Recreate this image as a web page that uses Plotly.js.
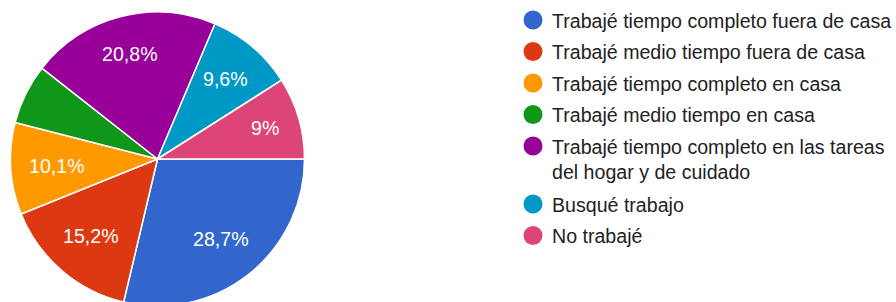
<!DOCTYPE html>
<html><head><meta charset="utf-8">
<script src="https://cdn.plot.ly/plotly-3.0.1.min.js"></script>
<style>html,body{margin:0;padding:0;overflow:hidden;background:#fff}#chart{width:896px;height:306px}</style>
</head><body><div id="chart"></div>
<script>
const categories = [
  "Trabajé tiempo completo fuera de casa",
  "Trabajé medio tiempo fuera de casa",
  "Trabajé tiempo completo en casa",
  "Trabajé medio tiempo en casa",
  "Trabajé tiempo completo en las tareas<br>del hogar y de cuidado",
  "Busqué trabajo",
  "No trabajé"
];
const values = [28.7, 15.2, 10.1, 6.6, 20.8, 9.6, 9.0];
const colors = ["#3366cc", "#dc3912", "#ff9900", "#109618", "#990099", "#0099c6", "#dd4477"];

const W = 896, H = 306;
const FONT = 'Arial, "Liberation Sans", sans-serif';
const FS = 19.6;
const labelsText = values.map(v => v >= 8 ? (Number.isInteger(v) ? String(v) : v.toFixed(1).replace('.', ',')) + '%' : '');

// pie geometry (pixels)
const PX0 = 10.5, PX1 = 304.5, PTOP = 12;
const R = (PX1 - PX0) / 2, CX = (PX0 + PX1) / 2, CY = PTOP + R;
const ROT = 90;

const trace = {
  type: 'pie',
  values: values,
  labels: categories,
  textinfo: 'none',
  sort: false,
  direction: 'clockwise',
  rotation: ROT,
  marker: {colors: colors, line: {color: '#ffffff', width: 1.5}},
  domain: {x: [PX0 / W, PX1 / W], y: [0, 1 - PTOP / H]},
  hoverinfo: 'label+percent',
  showlegend: false
};

const shapes = [], annotations = [];

// slice percentage labels along each slice bisector, pushed outward until the label box reaches a fixed radius
const ctx = document.createElement('canvas').getContext('2d');
ctx.font = FS + 'px ' + FONT;
const total = values.reduce((a, b) => a + b, 0);
const RL = 0.874 * R, HH = 11;
let cum = 0;
values.forEach((v, i) => {
  const mid = (ROT + (cum + v / 2) / total * 360) * Math.PI / 180;
  cum += v;
  if (!labelsText[i]) return;
  const m = ctx.measureText(labelsText[i]);
  const w = (m.actualBoundingBoxLeft !== undefined ? m.actualBoundingBoxLeft + m.actualBoundingBoxRight : m.width);
  const ux = Math.sin(mid), uy = -Math.cos(mid);
  const a = Math.sign(ux) * w / 2, b = Math.sign(uy) * HH;
  const p = ux * a + uy * b;
  const d = -p + Math.sqrt(p * p - (a * a + b * b) + RL * RL);
  const x = CX + d * ux, y = CY + d * uy;
  annotations.push({xref: 'paper', yref: 'paper', x: x / W, y: 1 - y / H,
    xanchor: 'center', yanchor: 'middle', showarrow: false, text: labelsText[i],
    font: {family: FONT, size: FS, color: '#ffffff'}});
});

// custom legend with circular swatches
const rowY = [20, 51.5, 83, 114.5, 146, 204, 235.5];
categories.forEach((c, i) => {
  const cy = rowY[i];
  shapes.push({type: 'circle', xref: 'paper', yref: 'paper',
    x0: (533 - 9.5) / W, x1: (533 + 9.5) / W,
    y0: 1 - (cy + 9.5) / H, y1: 1 - (cy - 9.5) / H,
    fillcolor: colors[i], line: {width: 0}});
  annotations.push({xref: 'paper', yref: 'paper', x: 550 / W, y: 1 - (cy - 12.5) / H,
    xanchor: 'left', yanchor: 'top', align: 'left', showarrow: false, text: c,
    font: {family: FONT, size: FS, color: '#222222'}});
});

Plotly.newPlot('chart', [trace], {
  width: W, height: H,
  margin: {l: 0, r: 0, t: 0, b: 0},
  paper_bgcolor: '#ffffff',
  shapes: shapes, annotations: annotations,
  showlegend: false
}, {displayModeBar: false, staticPlot: true});
</script></body></html>
